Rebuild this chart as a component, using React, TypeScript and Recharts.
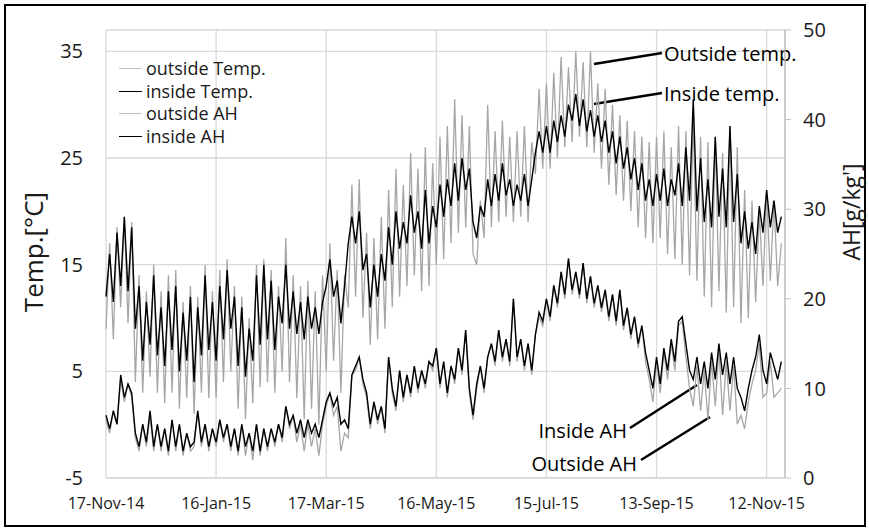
import React from 'react';
import {
  LineChart,
  Line,
  XAxis,
  YAxis,
  CartesianGrid,
  Legend,
  Customized,
} from 'recharts';

// one reading every 2 days from 17-Nov-14, alternating daily highs / lows
const STEP_DAYS = 2;

const tickDays = [0, 60, 120, 180, 240, 300, 360];
const tickLabels = ['17-Nov-14', '16-Jan-15', '17-Mar-15', '16-May-15', '15-Jul-15', '13-Sep-15', '12-Nov-15'];
const tempTicks = [-5, 5, 15, 25, 35];
const ahTicks = [0, 10, 20, 30, 40, 50];

// each row = 30 days
const tempOut = [
  9, 17, 8, 18.5, 11, 19.5, 9.5, 19, 4, 14, 3, 12.5, 4.5, 15, 3,
  12.5, 2, 14, 3, 14.5, 1.5, 11.5, 2.5, 13, 1, 12, 3, 15, 2.5, 12.5,
  2.5, 14.5, 4, 15.5, 5, 13, 1.5, 12, 0.5, 10, 2, 15, 3.5, 15.5, 4,
  14.5, 3, 13, 5, 17.5, 4, 14, 2.5, 13, 0.5, 13.5, 1.5, 12.5, 0, 14,
  5, 17, 6, 14.5, 3, 14, 11, 22.5, 12, 23, 10, 18, 7.5, 17.5, 8,
  19.5, 9, 22, 11, 24, 12, 22.5, 13, 25.5, 14, 24, 12.5, 26, 13, 24.5,
  15, 27, 15.5, 28, 17, 30.5, 18, 29, 18.5, 28, 16, 15, 21, 17.5, 30,
  18.5, 27.5, 19, 28.5, 19.5, 27, 19, 27.5, 19.5, 28, 19, 26.5, 23.5, 31.5, 24,
  32, 24, 33, 25, 34.5, 26, 33.5, 26.5, 35, 27, 34, 26, 35, 25.5, 32,
  24, 31.5, 22.5, 30, 21.5, 29, 21, 28.5, 20, 27.5, 18.5, 27, 17.5, 26.5, 17,
  27, 17.5, 27.5, 16, 26, 15.5, 28, 15, 27.5, 14, 29, 13.5, 27, 12, 26.5,
  11, 27, 12.5, 25.5, 10.5, 28, 11, 26, 9.5, 22, 10, 21, 11.5, 20, 13,
  22, 13.5, 21, 13, 17,
];

const tempIn = [
  12, 16, 11.5, 18, 13, 19.5, 12.5, 18.5, 9, 13, 6, 11.5, 7.5, 14, 6.5,
  11, 5.5, 12.5, 7, 13, 5, 10.5, 6, 12, 4, 11, 6.5, 14, 7, 11.5,
  6, 13, 8, 14.5, 9, 12, 5.5, 11, 4.5, 9, 6, 14, 7.5, 15, 8,
  13.5, 7, 12, 9.5, 15, 9, 12.5, 8.5, 11.5, 8, 12, 9, 11, 8.5, 11.5,
  13, 15.5, 12, 13.5, 9.5, 13, 17, 19.5, 17, 20, 14.5, 16, 11, 15, 12,
  16, 13.5, 18.5, 15, 20, 16.5, 19, 17, 21.5, 18, 20, 16.5, 22, 17, 20.5,
  18.5, 22.5, 19.5, 23, 20.5, 24.5, 21, 25, 22, 24, 19, 17.5, 20.5, 19.5, 23,
  20.5, 23.5, 21, 24.5, 21.5, 23, 20.5, 22.5, 21, 23.5, 20.5, 23, 25.5, 27.5, 25.5,
  28, 25.5, 28.5, 26.5, 29, 27, 30, 28.5, 31, 28, 30.5, 27.5, 29.5, 27, 29,
  26.5, 28.5, 25.5, 27.5, 24.5, 27, 24, 26, 23, 25, 22, 24.5, 21, 23, 20.5,
  23.5, 21, 24, 20.5, 23, 21.5, 24.5, 20.5, 26, 21, 30.5, 20, 25, 19, 23,
  18.5, 27, 19.5, 24, 18.5, 28, 19, 23.5, 17, 20, 16.5, 19, 16, 20.5, 18,
  22, 18.5, 21, 18, 19.5,
];

const ahOut = [
  6.5, 5, 7.5, 6, 11, 8.5, 10.5, 9, 4.5, 3, 6, 3.5, 7, 3, 6,
  3, 5.5, 2.5, 6.5, 3, 6, 2.5, 5, 3, 3.5, 7.5, 3.5, 6, 3, 5.5,
  3.5, 6.5, 4, 6, 3, 5.5, 2.5, 6, 2.5, 5, 2, 6, 2.5, 5.5, 3,
  5.5, 3.5, 6, 4, 8, 5.5, 7, 4, 6, 3, 6, 3.5, 5.5, 2.5, 6,
  8, 9.5, 7, 8, 3, 5, 4.5, 11.5, 12, 13.5, 10.5, 9, 5.5, 8.5, 6,
  8, 5, 13.5, 9.5, 7.5, 12, 8.5, 11.5, 9, 12.5, 9.5, 12, 10, 13, 12,
  14.5, 10, 13, 9, 12.5, 10.5, 14.5, 11.5, 16.5, 9.5, 6.5, 10, 12.5, 9.5, 13.5,
  15, 12.5, 16.5, 13, 15.5, 12.5, 20, 13, 15.5, 12, 15, 11.5, 16, 18, 17,
  20, 17.5, 21.5, 19, 23, 20, 24.5, 20.5, 23, 20, 24, 19.5, 22.5, 19, 21.5,
  18.5, 21, 17.5, 20.5, 17, 21, 16.5, 19, 15.5, 18, 14.5, 17, 13, 11, 8.5,
  13, 9.5, 14, 11, 15, 12, 17, 17.5, 13.5, 10, 8, 12.5, 7.5, 12, 6.5,
  13, 8, 14.5, 7, 13, 7.5, 12.5, 6, 7, 5.5, 8.5, 10.5, 12, 15, 9,
  9.5, 13, 9, 9.5, 10,
];

const ahIn = [
  7, 5.5, 7.5, 6, 11.5, 9, 10.5, 9.5, 5, 3.5, 6, 4, 7.5, 3.5, 6,
  3.5, 5.5, 3, 6.5, 3.5, 6, 3, 5, 3.5, 4, 7.5, 4, 6, 3.5, 5.5,
  4, 6.5, 4.5, 6, 3.5, 5.5, 3, 6, 3.5, 5, 3, 6, 3, 5.5, 3.5,
  5.5, 4, 6, 4.5, 8, 6, 7, 5, 6.5, 4.5, 6.5, 5, 6, 4.5, 6.5,
  8.5, 9.5, 8, 9, 6, 6.5, 5.5, 11.5, 12.5, 13.5, 11, 9.5, 6, 8.5, 6.5,
  8, 5.5, 13.5, 10, 8, 12, 9, 11.5, 9.5, 12.5, 10, 12, 10.5, 13, 12.5,
  14.5, 10.5, 13, 9.5, 12.5, 11, 14.5, 12, 16.5, 10, 7, 10.5, 12.5, 10, 13.5,
  15, 13, 16.5, 13.5, 15.5, 13, 20, 13.5, 15.5, 12.5, 15, 12, 16, 18.5, 17.5,
  20, 18, 21.5, 19.5, 23, 20.5, 24.5, 21, 23, 20.5, 24, 20, 22.5, 19.5, 21.5,
  19, 21, 18, 20.5, 17.5, 21, 17, 19, 16, 18, 15, 17, 14, 12, 10,
  13.5, 10.5, 14.5, 12, 15.5, 13, 17.5, 18, 15, 12, 11, 13.5, 10.5, 13, 10,
  14, 11, 15, 11.5, 14, 10.5, 13.5, 10, 9, 7.5, 10, 12, 13.5, 16, 12,
  10.5, 14, 12.5, 11, 13,
];

const chartData = tempOut.map((_, i) => ({
  day: i * STEP_DAYS,
  tempOut: tempOut[i],
  tempIn: tempIn[i],
  ahOut: ahOut[i],
  ahIn: ahIn[i],
}));

const FONT = "'Open Sans', sans-serif";
const TEXT = '#1a1a1a';
const GREY = '#a6a6a6';

const legendItems = [
  { name: 'outside Temp.', color: '#bfbfbf' },
  { name: 'inside Temp.', color: '#000' },
  { name: 'outside AH', color: '#bfbfbf' },
  { name: 'inside AH', color: '#000' },
];

const renderLegend = () => (
  <div style={{ fontFamily: FONT, fontSize: 18, lineHeight: '22.7px', color: TEXT }}>
    {legendItems.map((item) => (
      <div key={item.name} style={{ display: 'flex', alignItems: 'center', whiteSpace: 'nowrap' }}>
        <span style={{ display: 'inline-block', width: 23, borderTop: `1.5px solid ${item.color}`, marginRight: 4 }} />
        {item.name}
      </div>
    ))}
  </div>
);

const Annotations = () => (
  <g fontFamily={FONT} fill="#000">
    <text transform="translate(33,252) rotate(-90)" textAnchor="middle" dominantBaseline="central" fontSize={26} fill={TEXT}>
      Temp.[°C]
    </text>
    <text transform="translate(851,212) rotate(-90)" textAnchor="middle" dominantBaseline="central" fontSize={23} fill={TEXT}>
      AH[g/kg']
    </text>
    <g stroke="#000" strokeWidth={2.5}>
      <line x1={594} y1={64} x2={662} y2={53} />
      <line x1={594} y1={104} x2={662} y2={93} />
      <line x1={630} y1={428} x2={697} y2={385} />
      <line x1={641} y1={460} x2={710} y2={417} />
    </g>
    <g fontSize={20} dominantBaseline="central">
      <text x={664} y={53}>Outside temp.</text>
      <text x={664} y={93}>Inside temp.</text>
      <text x={627} y={430} textAnchor="end">Inside AH</text>
      <text x={637} y={463} textAnchor="end">Outside AH</text>
    </g>
  </g>
);

const App = () => {
  return (
    <div style={{ position: 'absolute', left: 0, top: 0, width: 869, height: 530, background: '#fff' }}>
      <div
        style={{
          position: 'absolute',
          left: 4,
          top: 4,
          width: 862,
          height: 523,
          boxSizing: 'border-box',
          border: '2px solid #000',
        }}
      />
      <LineChart
        width={869}
        height={530}
        data={chartData}
        margin={{ top: 30, right: 24, left: 46, bottom: 22 }}
        style={{ fontFamily: FONT }}
      >
        <CartesianGrid yAxisId="left" stroke="#d9d9d9" strokeWidth={1.3} />
        <XAxis
          dataKey="day"
          type="number"
          domain={[0, 370]}
          ticks={tickDays}
          tickFormatter={(d: number) => tickLabels[tickDays.indexOf(d)]}
          axisLine={{ stroke: '#d9d9d9', strokeWidth: 1.3 }}
          tickLine={false}
          tickMargin={14}
          height={30}
          tick={{ fontSize: 16, fill: TEXT }}
        />
        <YAxis
          yAxisId="left"
          domain={[-5, 37]}
          ticks={tempTicks}
          allowDataOverflow
          axisLine={false}
          tickLine={false}
          tickMargin={17}
          width={60}
          tick={{ fontSize: 20, fill: TEXT }}
        />
        <YAxis
          yAxisId="right"
          orientation="right"
          domain={[0, 50]}
          ticks={ahTicks}
          allowDataOverflow
          axisLine={{ stroke: '#bfbfbf', strokeWidth: 1.3 }}
          tickLine={{ stroke: '#bfbfbf' }}
          tickSize={6}
          tickMargin={12}
          width={60}
          tick={{ fontSize: 20, fill: TEXT }}
        />
        <Legend
          layout="vertical"
          align="center"
          verticalAlign="middle"
          content={renderLegend}
          wrapperStyle={{ top: 57, left: 119, width: 200, height: 92 }}
        />
        <Line yAxisId="left" dataKey="tempOut" name="outside Temp." stroke={GREY} strokeWidth={1.3} dot={false} isAnimationActive={false} />
        <Line yAxisId="right" dataKey="ahOut" name="outside AH" stroke={GREY} strokeWidth={1.3} dot={false} isAnimationActive={false} />
        <Line yAxisId="left" dataKey="tempIn" name="inside Temp." stroke="#000" strokeWidth={1.4} dot={false} isAnimationActive={false} />
        <Line yAxisId="right" dataKey="ahIn" name="inside AH" stroke="#000" strokeWidth={1.4} dot={false} isAnimationActive={false} />
        <Customized component={Annotations} />
      </LineChart>
    </div>
  );
};

export default App;
